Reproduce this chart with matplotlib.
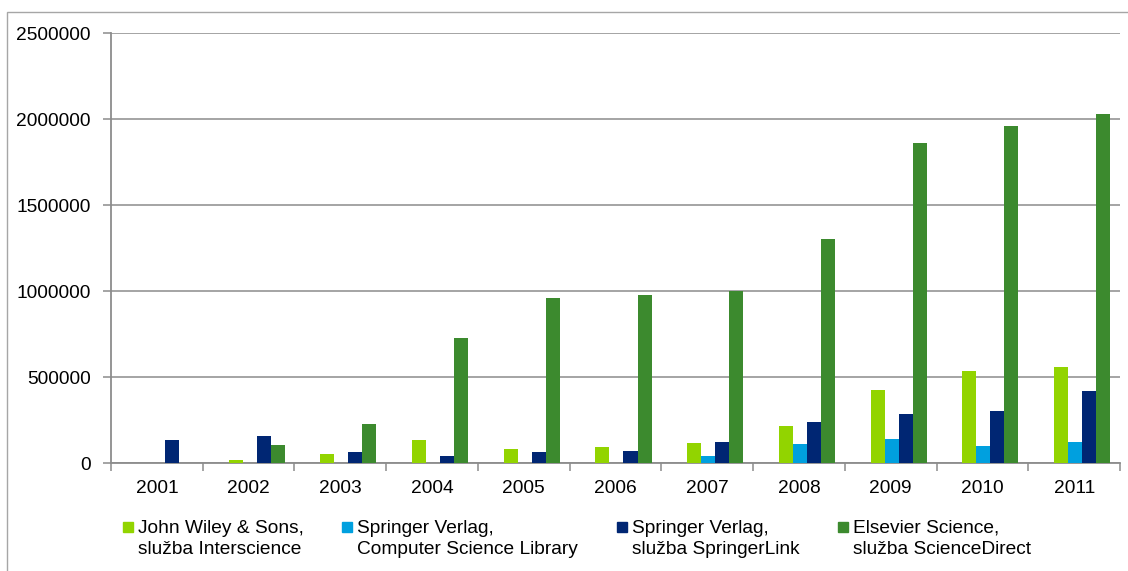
import matplotlib
matplotlib.use("Agg")
import matplotlib.pyplot as plt
import numpy as np
from matplotlib.patches import Rectangle

years = ["2001", "2002", "2003", "2004", "2005", "2006", "2007", "2008", "2009", "2010", "2011"]
wiley = [0, 19000, 56000, 134000, 81000, 95000, 120000, 219000, 426000, 537000, 562000]
springer_csl = [0, 0, 0, 0, 0, 0, 44000, 110000, 140000, 99000, 126000]
springerlink = [134000, 157000, 66000, 43000, 64000, 73000, 122000, 240000, 289000, 304000, 420000]
elsevier = [0, 105000, 227000, 727000, 961000, 977000, 1000000, 1302000, 1860000, 1959000, 2033000]
series_labels = ["John Wiley & Sons,\nslužba Interscience",
                 "Springer Verlag,\nComputer Science Library",
                 "Springer Verlag,\nslužba SpringerLink",
                 "Elsevier Science,\nslužba ScienceDirect"]
y_ticks = [0, 500000, 1000000, 1500000, 2000000, 2500000]

colors = ["#92D400", "#00A0DF", "#002673", "#3C8A2E"]
series = [wiley, springer_csl, springerlink, elsevier]

plt.rcParams['font.family'] = ['Liberation Sans', 'DejaVu Sans']
W, H = 1128, 571
fig = plt.figure(figsize=(W / 100, H / 100), dpi=100)
ax = fig.add_axes([111 / W, 1 - 463.3 / H, (1120 - 111) / W, (463.3 - 33.3) / H])

grid_c = "#8C8C8C"
fs = 13.8
x = np.arange(len(years))
bw = 0.153
off = 0.087
for j, (vals, c) in enumerate(zip(series, colors)):
    ax.bar(x + off + (j - 1.5) * bw, vals, width=bw, color=c, zorder=3)

ax.set_xlim(-0.5, len(years) - 0.5)
ax.set_ylim(0, 2500000)
ax.set_yticks(y_ticks)
ax.set_yticklabels([str(v) for v in y_ticks])
ax.set_xticks(x)
ax.set_xticklabels(years)
ax.set_xticks(np.arange(len(years) + 1) - 0.5, minor=True)
ax.yaxis.grid(True, color=grid_c, linewidth=1.1, zorder=0)
ax.tick_params(axis='y', length=6, width=1.1, color=grid_c, labelsize=fs, pad=8.5, labelcolor="#000000")
ax.tick_params(axis='x', which='major', length=0, labelsize=fs, pad=12, labelcolor="#000000")
ax.tick_params(axis='x', which='minor', length=6, width=1.1, color=grid_c)
for s in ['top', 'right']:
    ax.spines[s].set_visible(False)
for s in ['left', 'bottom']:
    ax.spines[s].set_color(grid_c)
    ax.spines[s].set_linewidth(1.3)

# outer border
fig.patches.append(Rectangle((7 / W, -0.1), 1.2, 1 - 11.5 / H + 0.1, transform=fig.transFigure,
                             fill=False, edgecolor="#A6A6A6", linewidth=1.0))

# legend
leg_x = [123, 342, 617, 838]
for lx, lab, c in zip(leg_x, series_labels, colors):
    fig.patches.append(Rectangle((lx / W, 1 - 531.7 / H), 10 / W, 10 / H,
                                 transform=fig.transFigure, color=c))
    fig.text((lx + 15) / W, 1 - 532.7 / H, lab.split("\n")[0], fontsize=fs, va='baseline', ha='left')
    fig.text((lx + 15) / W, 1 - 554.3 / H, lab.split("\n")[1], fontsize=fs, va='baseline', ha='left')

fig.savefig("out.png", dpi=100)
